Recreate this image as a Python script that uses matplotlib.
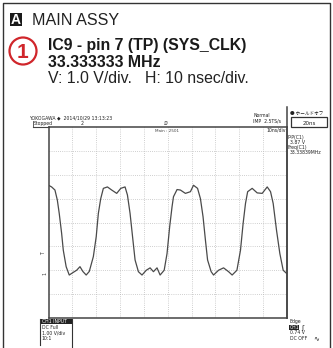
import matplotlib
matplotlib.use("Agg")
import matplotlib.pyplot as plt
from matplotlib.patches import Rectangle, Ellipse
from matplotlib.lines import Line2D

# ---- data --------------------------------------------------------------
# CH1 trace: time (ns) and level (V, relative to the CH1 ground marker)
time_ns = [0.0, 1.3, 2.7, 3.7, 4.5, 5.5, 6.2, 7.4, 8.7, 10.2, 11.8, 13.2,
           14.4, 15.8, 17.1, 18.8, 20.0, 20.9, 21.9, 23.0, 24.7, 26.5, 28.6,
           30.3, 32.1, 33.1, 34.2, 35.4, 36.3, 37.7, 39.2, 41.0, 42.6, 44.0,
           45.5, 46.8, 48.5, 49.7, 50.8, 51.8, 52.4, 53.9, 55.3, 57.4, 59.5,
           60.8, 62.5, 63.7, 64.8, 65.8, 66.7, 68.2, 69.2, 71.3, 73.4, 75.5,
           77.0, 79.0, 80.5, 81.6, 82.6, 83.5, 85.4, 87.5, 89.6, 91.7, 93.1,
           94.2, 95.6, 97.0, 98.4, 99.8]
volts = [3.56, 3.49, 3.36, 2.94, 2.38, 1.55, 0.84, 0.15, -0.20, -0.10, 0.00,
         0.15, -0.05, -0.20, -0.05, 0.57, 1.40, 2.38, 3.00, 3.43, 3.49, 3.36,
         3.22, 3.43, 3.49, 3.15, 2.38, 1.26, 0.43, -0.06, -0.20, 0.00, 0.10,
         -0.06, 0.10, -0.20, 0.00, 0.70, 1.82, 2.66, 3.08, 3.38, 3.36, 3.22,
         3.29, 3.56, 3.43, 3.00, 2.24, 1.26, 0.43, -0.06, -0.20, 0.00, 0.10,
         -0.06, -0.20, 0.00, 0.84, 1.96, 2.80, 3.29, 3.43, 3.24, 3.22, 3.49,
         3.29, 2.80, 1.68, 0.70, 0.00, -0.13]

trigger_level = 0.74          # V
time_range = (0, 100)         # 10 ns/div x 10 div
volt_range = (-2, 6)          # 1 V/div x 8 div

header_lines = ["MAIN ASSY", "IC9 - pin 7 (TP) (SYS_CLK)", "33.333333 MHz",
                "V: 1.0 V/div.   H: 10 nsec/div."]
scope_header = "YOKOGAWA \u25c6  2014/10/29 13:13:23"
meas_lines = ["P-P(C1)", "3.87 V", "Freq(C1)", "33.33839MHz"]
ch_lines = ["DC Full", "1.00 V/div", "10:1"]
trig_lines = ["0.74 V", "DC OFF"]

# ---- figure ------------------------------------------------------------
W, H = 333, 348
fig = plt.figure(figsize=(W / 100, H / 100), dpi=100)
fig.patch.set_facecolor("white")

SANS = ["Liberation Sans", "DejaVu Sans"]
SMALL = ["DejaVu Sans", "Noto Sans CJK JP"]


def fx(px):
    return px / W


def fy(py):
    return 1 - py / H


def text(px, py, s, size, **kw):
    kw.setdefault("family", SANS)
    kw.setdefault("va", "baseline")
    return fig.text(fx(px), fy(py), s, fontsize=size, **kw)


def line(xs, ys, **kw):
    fig.add_artist(Line2D([fx(x) for x in xs], [fy(y) for y in ys], **kw))


def rect(px, py, w, h, **kw):
    fig.add_artist(Rectangle((fx(px), fy(py + h)), w / W, h / H, **kw))


# outer frame
line([2.5, 2.5, 330, 330], [348, 2.5, 2.5, 348], color="#333333", lw=1.0)

# section badge and title
rect(10, 13, 12, 13, facecolor="#1a1a1a", edgecolor="none")
text(16, 24, "A", 10, color="white", weight="bold", ha="center")
text(32, 25, header_lines[0], 11.6, color="#222222")

# numbered circle
fig.add_artist(Ellipse((fx(23), fy(51)), 27 / W, 27 / H, facecolor="white",
                       edgecolor="#d0262b", lw=1.6))
text(23, 58.5, "1", 15, color="#d0262b", weight="bold", ha="center")

text(48, 50, header_lines[1], 11.4, color="#1a1a1a", weight="bold")
text(48, 67, header_lines[2], 11.4, color="#1a1a1a", weight="bold")
text(48, 83, header_lines[3], 11.4, color="#222222")

# ---- scope screen -----------------------------------------------------
L, R, T, B = 48.5, 287, 127, 318
ax = fig.add_axes([fx(L), fy(B), (R - L) / W, (B - T) / H])
ax.set_xlim(*time_range)
ax.set_ylim(*volt_range)
ax.set_xticks(range(10, 100, 10))
ax.set_yticks(range(-1, 6))
ax.tick_params(length=0, labelbottom=False, labelleft=False)
ax.grid(True, color="#b4b4b4", lw=0.55, ls=(0, (1.0, 1.8)))
for s in ax.spines.values():
    s.set_color("#444444")
    s.set_linewidth(1.1)
ax.plot(time_ns, volts, color="#4a4a4a", lw=0.9)

# right-hand panel divider and top rule
line([287, 287], [107, 318], color="#444444", lw=1.1)
line([33, 48.5], [127, 127], color="#444444", lw=0.8)
line([33, 33], [121, 127], color="#444444", lw=0.6)

ts = 3.3
text(29, 119.5, scope_header, ts, family=SMALL, color="#222222")
text(34, 125.5, "Stopped", ts, family=SMALL, color="#222222")
text(81, 125, "2", ts, family=SMALL, color="#222222")
text(166, 125, "\u2145", ts, family=SMALL, color="#222222", ha="center")
text(155, 132, "Main : 2501", ts - 0.3, family=SMALL, color="#444444")
text(253, 117, "Normal", ts, family=SMALL, color="#222222")
text(253, 122, "IMP  2.5TS/s", ts, family=SMALL, color="#222222")
text(266, 132, "10ns/div", ts, family=SMALL, color="#222222")

# holdoff box
text(290, 115, "\u25cf \u30db\u30fc\u30eb\u30c9\u30aa\u30d5", ts,
     family=["Noto Sans CJK JP", "DejaVu Sans"], color="#222222")
rect(291, 117, 36, 10, facecolor="white", edgecolor="#333333", lw=0.9)
text(309, 125, "20ns", 4, family=SMALL, color="#222222", ha="center")

# measurements
for i, s in enumerate(meas_lines):
    text(288 + (2 if i % 2 else 0), 139 + 5 * i, s, ts, family=SMALL,
         color="#222222")

# level markers on the left edge
text(44, 254, "T", ts, family=SMALL, color="#333333", rotation=90,
     ha="center")
text(45, 274, "1", ts, family=SMALL, color="#333333", rotation=90,
     ha="center")

# channel info box
rect(40, 318.5, 32, 5.5, facecolor="#222222", edgecolor="none")
text(42, 323, "CH1 INPUT", ts, family=SMALL, color="white")
line([40, 40], [318.5, 345], color="#333333", lw=0.8)
line([71.5, 71.5], [318.5, 348], color="#333333", lw=0.8)
for i, s in enumerate(ch_lines):
    text(41.5, 329 + 5.5 * i, s, ts, family=SMALL, color="#222222")

# trigger info
text(289, 323.5, "Edge", ts, family=SMALL, color="#222222")
rect(288.5, 325, 10, 5, facecolor="#222222", edgecolor="none")
text(289.5, 329.2, "CH1", ts, family=SMALL, color="white")
text(301, 330, "\u0283", 5, family=SMALL, color="#222222")
for i, s in enumerate(trig_lines):
    text(289.5, 334.5 + 5.5 * i, s, ts, family=SMALL, color="#222222")
text(313, 340, "\u223f", 5, family=SMALL, color="#222222")

fig.savefig("out.png", dpi=100, facecolor="white")
